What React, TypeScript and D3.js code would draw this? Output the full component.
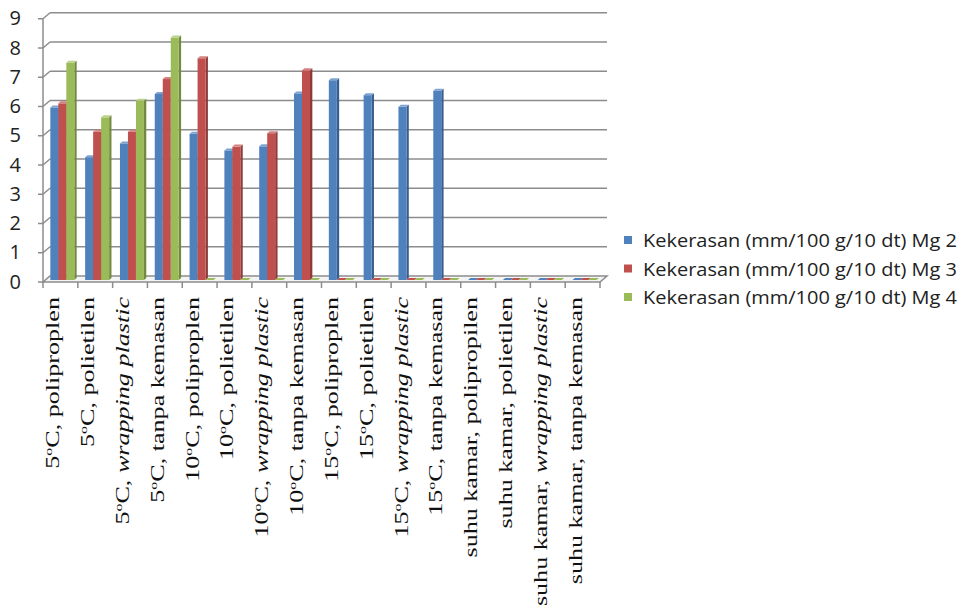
import React from "react";
import * as d3 from "d3";

// Storage treatments (temperature, packaging)
const categories: string[] = [
  "5C|poliproplen", "5C|polietilen", "5C|wrapping plastic", "5C|tanpa kemasan",
  "10C|poliproplen", "10C|polietilen", "10C|wrapping plastic", "10C|tanpa kemasan",
  "15C|poliproplen", "15C|polietilen", "15C|wrapping plastic", "15C|tanpa kemasan",
  "kamar|polipropilen", "kamar|polietilen", "kamar|wrapping plastic", "kamar|tanpa kemasan",
];

const seriesNames: string[] = [
  "Kekerasan (mm/100 g/10 dt) Mg 2",
  "Kekerasan (mm/100 g/10 dt) Mg 3",
  "Kekerasan (mm/100 g/10 dt) Mg 4",
];

// Hardness per week
const mg2: number[] = [5.9, 4.2, 4.67, 6.36, 5.0, 4.43, 4.57, 6.38, 6.83, 6.32, 5.92, 6.47, 0, 0, 0, 0];
const mg3: number[] = [6.04, 5.07, 5.07, 6.87, 7.58, 4.56, 5.02, 7.17, 0, 0, 0, 0, 0, 0, 0, 0];
const mg4: number[] = [7.43, 5.56, 6.13, 8.29, 0, 0, 0, 0, 0, 0, 0, 0, 0, 0, 0, 0];

const yTicks: number[] = [0, 1, 2, 3, 4, 5, 6, 7, 8, 9];

const seriesValues = [mg2, mg3, mg4];
const faceColors = [
  { front: "#4F81BD", side: "#385E8F", top: "#7FA3D1" },
  { front: "#C0504D", side: "#8E3A38", top: "#D5827F" },
  { front: "#9BBB59", side: "#728A40", top: "#B9D287" },
];

const W = 963;
const H = 610;

// Oblique 3D frame: front plane, back wall offset by (DX, DY)
const DX = 7;
const DY = -6;
const BAR_DX = 2.33;
const BAR_DY = -2;

const x = d3.scaleBand<string>().domain(categories).range([43, 600]).padding(0);
const xs = d3.scaleBand<string>().domain(seriesNames).range([0, 24]).padding(0);
const yF = d3.scaleLinear().domain([0, 9]).range([282, 18.75]);

const gridColor = "#8C8C8C";

function CategoryLabel({ cat }: { cat: string }) {
  const [temp, pack] = cat.split("|");
  const italic = pack === "wrapping plastic";
  const cx = (x(cat) as number) + x.bandwidth() / 2 - 1;
  const fs = 18;
  const packSpan = <tspan fontStyle={italic ? "italic" : "normal"}>{pack}</tspan>;
  return (
    <text
      transform={`translate(${cx},297) rotate(-90) scale(1.45,1)`}
      textAnchor="end"
      fontFamily="'Liberation Serif', 'Times New Roman', serif"
      fontSize={fs}
      fill="#111"
    >
      {temp === "kamar" ? (
        <>
          <tspan>suhu kamar, </tspan>
          {packSpan}
        </>
      ) : (
        <>
          <tspan>{temp.replace("C", "")}</tspan>
          <tspan fontSize={11} dy={-7}>o</tspan>
          <tspan dy={7}>C, </tspan>
          {packSpan}
        </>
      )}
    </text>
  );
}

export default function App() {
  const y0 = yF(0);
  const barBase = y0 + BAR_DY; // bars sit a little behind the front edge of the floor
  const barShift = BAR_DX;

  const bars: React.ReactNode[] = [];
  categories.forEach((cat, ci) => {
    seriesNames.forEach((s, si) => {
      const v = seriesValues[si][ci];
      const c = faceColors[si];
      const bx = (x(cat) as number) + 5 + barShift + (xs(s) as number);
      const bw = xs.bandwidth();
      const top = barBase - (y0 - yF(v));
      const key = `${ci}-${si}`;
      const topPts = [
        [bx, top], [bx + bw, top], [bx + bw + BAR_DX, top + BAR_DY], [bx + BAR_DX, top + BAR_DY],
      ].map((p) => p.join(",")).join(" ");
      if (v <= 0) {
        bars.push(<polygon key={key} points={topPts} fill={c.front} />);
        return;
      }
      const sidePts = [
        [bx + bw, top], [bx + bw + BAR_DX, top + BAR_DY], [bx + bw + BAR_DX, barBase + BAR_DY], [bx + bw, barBase],
      ].map((p) => p.join(",")).join(" ");
      bars.push(
        <g key={key}>
          <polygon points={sidePts} fill={c.side} />
          <rect x={bx} y={top} width={bw} height={barBase - top} fill={c.front} />
          <polygon points={topPts} fill={c.top} />
        </g>
      );
    });
  });

  const xFront0 = 43;
  const xFront1 = 600;

  return (
    <svg
      width={W}
      height={H}
      viewBox={`0 0 ${W} ${H}`}
      style={{ position: "absolute", left: 0, top: 0, background: "#fff" }}
    >
      {/* side and back wall gridlines */}
      {yTicks.filter((t) => t > 0).map((t) => (
        <g key={`g${t}`} stroke={gridColor} strokeWidth={1.5} fill="none">
          <line x1={xFront0} y1={yF(t)} x2={xFront0 + DX} y2={yF(t) + DY} />
          <line x1={xFront0 + DX} y1={yF(t) + DY} x2={xFront1 + DX} y2={yF(t) + DY} />
        </g>
      ))}

      {/* floor */}
      <polygon
        points={[
          [xFront0, y0], [xFront1, y0], [xFront1 + DX, y0 + DY], [xFront0 + DX, y0 + DY],
        ].map((p) => p.join(",")).join(" ")}
        fill="#F4F4F4"
        stroke={gridColor}
        strokeWidth={1.5}
      />

      {bars}

      {/* vertical axis */}
      <line x1={xFront0} y1={yF(9)} x2={xFront0} y2={y0} stroke={gridColor} strokeWidth={1.5} />
      {yTicks.map((t) => (
        <g key={`yt${t}`}>
          <line x1={xFront0 - 5} y1={yF(t)} x2={xFront0} y2={yF(t)} stroke={gridColor} strokeWidth={1.5} />
          <text
            x={21}
            y={yF(t) - 1}
            textAnchor="end"
            dominantBaseline="central"
            fontFamily="'Open Sans', 'Liberation Sans', sans-serif"
            fontSize={20}
            fill="#222"
          >
            {t}
          </text>
        </g>
      ))}

      {/* category ticks */}
      {categories.concat(["__end"]).map((cat, i) => {
        const tx = i < categories.length ? (x(cat) as number) : xFront1;
        return (
          <line key={`xt${i}`} x1={tx} y1={y0} x2={tx} y2={y0 + 6} stroke={gridColor} strokeWidth={1.5} />
        );
      })}

      {categories.map((cat) => (
        <CategoryLabel key={`lbl-${cat}`} cat={cat} />
      ))}

      {/* legend */}
      {seriesNames.map((s, i) => {
        const ly = 240 + i * 28.5;
        return (
          <g key={`lg${i}`}>
            <rect x={624} y={ly - 4} width={8} height={8} fill={faceColors[i].front} />
            <text
              x={643}
              y={ly}
              dominantBaseline="central"
              fontFamily="'Open Sans', 'Liberation Sans', sans-serif"
              fontSize={18}
              fill="#222"
              textLength={314}
              lengthAdjust="spacingAndGlyphs"
            >
              {s}
            </text>
          </g>
        );
      })}
    </svg>
  );
}
